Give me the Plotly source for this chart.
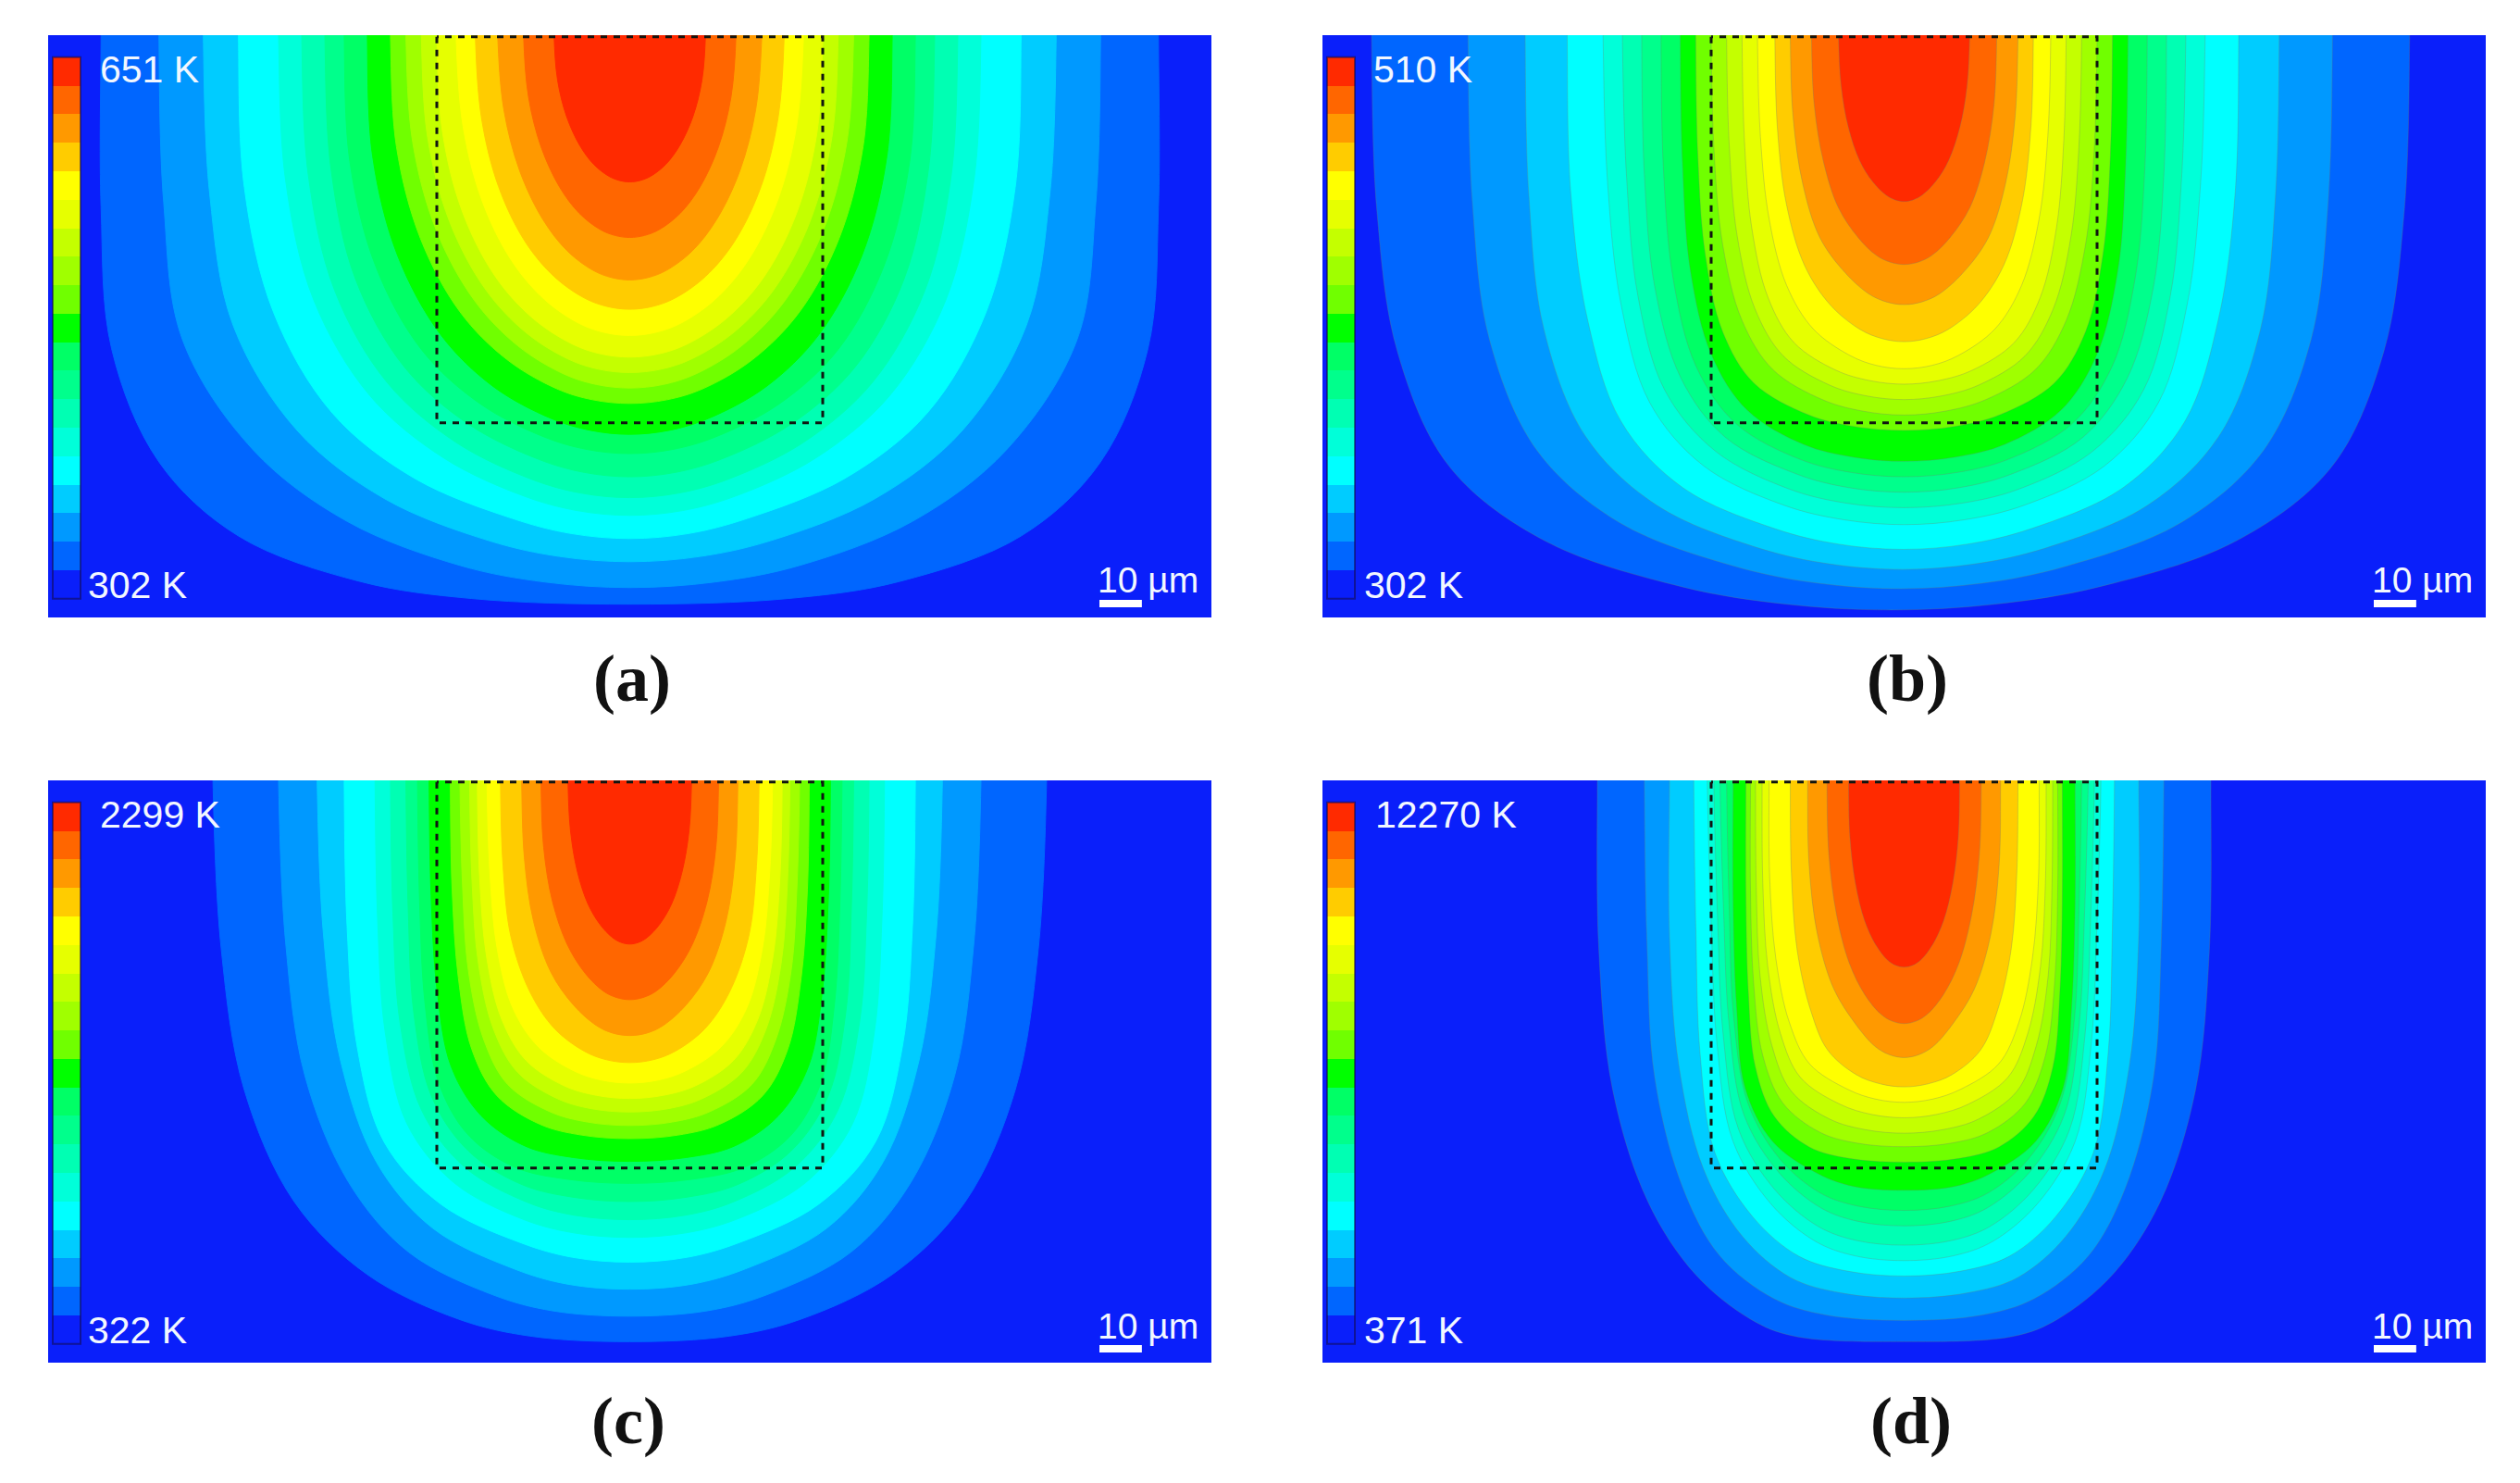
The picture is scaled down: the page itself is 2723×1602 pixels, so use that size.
import plotly.graph_objects as go

W, H = 2723, 1602

# Band colours of the temperature scale, hottest first
BAND_COLORS = ["#ff2a00", "#ff6600", "#ff9900", "#ffcc00", "#ffff00", "#e6ff00", "#c4ff00",
               "#a0ff00", "#70ff00", "#00ff00", "#00ff66", "#00ff8c", "#00ffb3", "#00ffd9",
               "#00ffff", "#00ccff", "#0099ff", "#0066ff", "#0a1ffa"]
BACKGROUND = "#0a1ffa"

# Depth of each sample along a contour, as a fraction of that contour's tip depth
DEPTH_FRACTION = [0, 0.3, 0.55, 0.75, 0.88, 0.96, 0.99]

# Contours run from outermost (coolest) to innermost (hottest); lengths in um.
# *_TOP: half-width at the surface, *_TIP: depth on the axis,
# *_SHAPE: half-width read at the sampled depths, relative to the surface half-width
A_TOP = [137, 122, 110.5, 101.4, 91, 85, 79, 74, 68, 62, 58, 54, 50, 45, 40, 34.2, 27.5, 19.6]
A_TIP = [147, 142.7, 136, 130, 124, 119.4, 114, 108, 103, 95, 91, 87, 83, 77.4, 70.6, 63, 52, 37.6]
A_SHAPE = [
    [1, .98, .89, .74, .51, .30], [.99, .95, .80, .60, .36, .18], [.985, .93, .78, .575, .33, .165],
    [.985, .91, .76, .55, .30, .15], [.98, .90, .74, .53, .30, .15], [.98, .90, .74, .53, .30, .15],
    [.98, .90, .74, .53, .30, .15], [.98, .89, .73, .525, .30, .15], [.98, .885, .72, .52, .30, .15],
    [.975, .875, .71, .514, .305, .155], [.97, .865, .695, .50, .295, .15], [.97, .865, .695, .50, .295, .15],
    [.97, .865, .695, .50, .295, .15], [.96, .85, .68, .49, .29, .145], [.96, .85, .68, .49, .29, .145],
    [.954, .835, .66, .475, .28, .14], [.954, .835, .66, .475, .28, .14], [.954, .835, .66, .475, .28, .14],
]
B_TOP = [134.5, 112, 97.7, 87, 78, 73, 68, 63, 58, 54, 50, 46, 42, 38, 33.5, 29.5, 24, 17]
B_TIP = [148.5, 143, 138, 132.8, 126.4, 122, 118, 114, 110, 102, 98, 94, 90, 86, 79, 69.4, 59, 42.7]
B_SHAPE = [
    [.99, .95, .85, .665, .40, .20], [.99, .95, .84, .65, .38, .19], [.99, .95, .84, .65, .38, .19],
    [.99, .94, .84, .655, .38, .19], [.985, .94, .845, .665, .40, .20], [.985, .945, .85, .67, .41, .21],
    [.99, .95, .85, .68, .41, .21], [.99, .95, .855, .69, .43, .22], [.99, .955, .86, .70, .45, .23],
    [.99, .955, .87, .72, .46, .24], [.985, .94, .84, .68, .42, .21], [.985, .94, .84, .68, .42, .21],
    [.985, .94, .84, .68, .42, .21], [.98, .92, .80, .62, .37, .19], [.98, .91, .77, .57, .34, .17],
    [.975, .89, .74, .52, .31, .155], [.97, .87, .71, .50, .30, .15], [.96, .85, .68, .48, .28, .14],
]
B_SHIFT = [-3.5, -1, -0.5, -0.3, 0, 0, 0, 0, 0, 0, 0, 0, 0, 0, 0, 0, 0, 0]
C_TOP = [108, 91, 81, 74, 66, 62, 58, 55, 52, 46.5, 44, 41.5, 39.5, 37, 33.5, 28, 23, 16]
C_TIP = [145, 138.4, 131.4, 124.4, 118, 113.4, 108.7, 104, 98.3, 92.4, 89, 85.5, 82, 78, 72.7, 65.7, 56.4, 42]
C_SHAPE = [
    [.98, .925, .805, .63, .41, .24], [.98, .925, .80, .63, .39, .22], [.98, .925, .81, .63, .37, .20],
    [.99, .955, .86, .66, .38, .20], [.99, .96, .875, .69, .42, .22], [.99, .96, .87, .69, .43, .23],
    [.99, .965, .885, .72, .48, .25], [.99, .965, .90, .76, .54, .29], [.99, .96, .89, .74, .52, .28],
    [.99, .955, .88, .74, .50, .27], [.985, .95, .86, .72, .47, .25], [.985, .945, .85, .70, .45, .24],
    [.985, .94, .84, .68, .43, .22], [.98, .93, .82, .64, .39, .20], [.98, .92, .77, .58, .35, .18],
    [.975, .89, .73, .52, .31, .16], [.97, .87, .70, .50, .30, .15], [.96, .85, .68, .48, .28, .14],
]
D_TOP = [79.5, 67.3, 60.8, 54.5, 51, 49.3, 47.7, 46, 44.3, 41, 39.8, 38.5, 36.8, 35, 29.5, 25, 20, 14.4]
D_TIP = [145, 139.5, 133.7, 128, 124, 120, 115, 111, 105.8, 98.5, 94.5, 91, 87, 83, 79, 71.4, 62.6, 48]
D_SHAPE = [
    [.995, .95, .835, .68, .50, .36], [.99, .96, .855, .71, .50, .30], [1, .96, .855, .69, .485, .27],
    [.99, .97, .90, .72, .50, .27], [.98, .95, .87, .68, .45, .25], [.98, .95, .87, .68, .45, .25],
    [.98, .95, .87, .68, .45, .25], [.985, .96, .88, .70, .47, .26], [1, .98, .93, .77, .50, .30],
    [1, .985, .94, .82, .60, .35], [1, .98, .92, .79, .55, .31], [.995, .97, .89, .76, .50, .26],
    [.995, .96, .87, .73, .45, .23], [.995, .95, .85, .70, .415, .21], [.99, .94, .82, .67, .42, .21],
    [.985, .90, .73, .50, .30, .15], [.975, .875, .71, .51, .305, .155], [.975, .875, .71, .51, .305, .155],
]
NO_SHIFT = [0] * 18

PANEL_NAMES = ["(a)", "(b)", "(c)", "(d)"]
MAX_LABELS = ["651 K", "510 K", "2299 K", "12270 K"]
MIN_LABELS = ["302 K", "302 K", "322 K", "371 K"]
SCALE_LABEL = "10 µm"
SCALE_BAR_LENGTH = 11
TARGET_BOX_X = [-50, -50, 50, 50]
TARGET_BOX_DEPTH = [0, 100, 100, 0]

# Layout in pixels
PANEL_W, PANEL_H = 1257, 629
PANEL_LEFT = [52, 1429, 52, 1429]
PANEL_TOP = [38, 38, 843, 843]
CAPTION_X = [683, 2061, 679, 2065]
CAPTION_Y = [733, 733, 1535, 1535]
MAX_LABEL_DX = [54, 53, 54, 55]
MIN_LABEL_DX = [41, 43, 41, 43]
UM_PER_PX = 1 / 4.17
X_HALF = PANEL_W / 2 * UM_PER_PX
DEPTH_TOP = -0.4
DEPTH_BOTTOM = DEPTH_TOP + PANEL_H * UM_PER_PX
CONTOUR_LINE = [None, "rgba(110,130,110,0.3)", None, "rgba(110,130,110,0.3)"]

TOPS = [A_TOP, B_TOP, C_TOP, D_TOP]
TIPS = [A_TIP, B_TIP, C_TIP, D_TIP]
SHAPES = [A_SHAPE, B_SHAPE, C_SHAPE, D_SHAPE]
SHIFTS = [NO_SHIFT, B_SHIFT, NO_SHIFT, NO_SHIFT]


def px(x):
    return x / W


def py(y):
    return 1 - y / H


fig = go.Figure()
n_bands = len(BAND_COLORS)
bar_edges = [5.3 + i * (145.6 - 5.3) / n_bands for i in range(n_bands + 1)]

annotations, shapes = [], []
for p in range(4):
    suffix = "" if p == 0 else str(p + 1)
    left, top = PANEL_LEFT[p], PANEL_TOP[p]
    xa, ya = "x" + suffix, "y" + suffix
    fig.update_layout({
        "xaxis" + suffix: dict(domain=[px(left), px(left + PANEL_W)], range=[-X_HALF, X_HALF],
                               visible=False, anchor=ya),
        "yaxis" + suffix: dict(domain=[py(top + PANEL_H), py(top)], range=[DEPTH_BOTTOM, DEPTH_TOP],
                               visible=False, anchor=xa),
    })
    for k in range(18):
        tip = TIPS[p][k]
        widths = [TOPS[p][k]] + [TOPS[p][k] * r for r in SHAPES[p][k]]
        depths = [f * tip for f in DEPTH_FRACTION]
        off = SHIFTS[p][k]
        xs = [-widths[0] + off] + [-w + off for w in widths] + [off] + [w + off for w in widths[::-1]] + [widths[0] + off]
        ys = [-12] + depths + [tip] + depths[::-1] + [-12]
        line_color = CONTOUR_LINE[p] or BAND_COLORS[n_bands - 2 - k]
        fig.add_trace(go.Scatter(x=xs, y=ys, mode="lines", fill="toself",
                                 fillcolor=BAND_COLORS[n_bands - 2 - k],
                                 line=dict(color=line_color, width=1, shape="spline", smoothing=1),
                                 hoverinfo="skip", showlegend=False, xaxis=xa, yaxis=ya))
    # Dotted target box
    fig.add_trace(go.Scatter(x=TARGET_BOX_X + TARGET_BOX_X[:1], y=TARGET_BOX_DEPTH + TARGET_BOX_DEPTH[:1],
                             mode="lines", line=dict(color="#101510", width=3, dash="7px,7px"),
                             hoverinfo="skip", showlegend=False, xaxis=xa, yaxis=ya))
    # Temperature scale
    bar_x = [-X_HALF + 5 * UM_PER_PX, -X_HALF + 35 * UM_PER_PX]
    fig.add_trace(go.Heatmap(x=bar_x, y=bar_edges, z=[[i] for i in range(n_bands)], zmin=0, zmax=n_bands - 1,
                             colorscale=[[i / (n_bands - 1), c] for i, c in enumerate(BAND_COLORS)],
                             showscale=False, hoverinfo="skip", xaxis=xa, yaxis=ya))
    shapes.append(dict(type="rect", xref=xa, yref=ya, x0=bar_x[0], x1=bar_x[1], y0=bar_edges[0], y1=bar_edges[-1],
                       line=dict(color="rgba(20,10,70,0.55)", width=2), layer="above"))
    # Scale bar
    bar_x0 = -X_HALF + 1136 * UM_PER_PX
    bar_y = DEPTH_TOP + 614 * UM_PER_PX
    fig.add_trace(go.Scatter(x=[bar_x0, bar_x0 + SCALE_BAR_LENGTH], y=[bar_y, bar_y], mode="lines",
                             line=dict(color="white", width=8), hoverinfo="skip", showlegend=False,
                             xaxis=xa, yaxis=ya))
    text_font = dict(family="Liberation Sans", size=41, color="#f2f7ff")
    scale_font = dict(family="Liberation Sans", size=39, color="#f2f7ff")
    annotations += [
        dict(x=px(left + MAX_LABEL_DX[p]), y=py(top + 37), xref="paper", yref="paper", text=MAX_LABELS[p],
             showarrow=False, xanchor="left", yanchor="middle", font=text_font),
        dict(x=px(left + MIN_LABEL_DX[p]), y=py(top + 594), xref="paper", yref="paper", text=MIN_LABELS[p],
             showarrow=False, xanchor="left", yanchor="middle", font=text_font),
        dict(x=px(left + 1132), y=py(top + 589), xref="paper", yref="paper", text=SCALE_LABEL,
             showarrow=False, xanchor="left", yanchor="middle", font=scale_font),
        dict(x=px(CAPTION_X[p]), y=py(CAPTION_Y[p]), xref="paper", yref="paper", text="<b>%s</b>" % PANEL_NAMES[p],
             showarrow=False, xanchor="center", yanchor="middle",
             font=dict(family="Liberation Serif", size=72, color="#111111")),
    ]

fig.update_layout(width=W, height=H, margin=dict(l=0, r=0, t=0, b=0, pad=0), paper_bgcolor="white",
                  plot_bgcolor=BACKGROUND, showlegend=False, annotations=annotations, shapes=shapes)
fig.write_html("out.html", config={"displayModeBar": False},
               post_script="document.body.style.margin='0';document.body.style.overflow='hidden';")
